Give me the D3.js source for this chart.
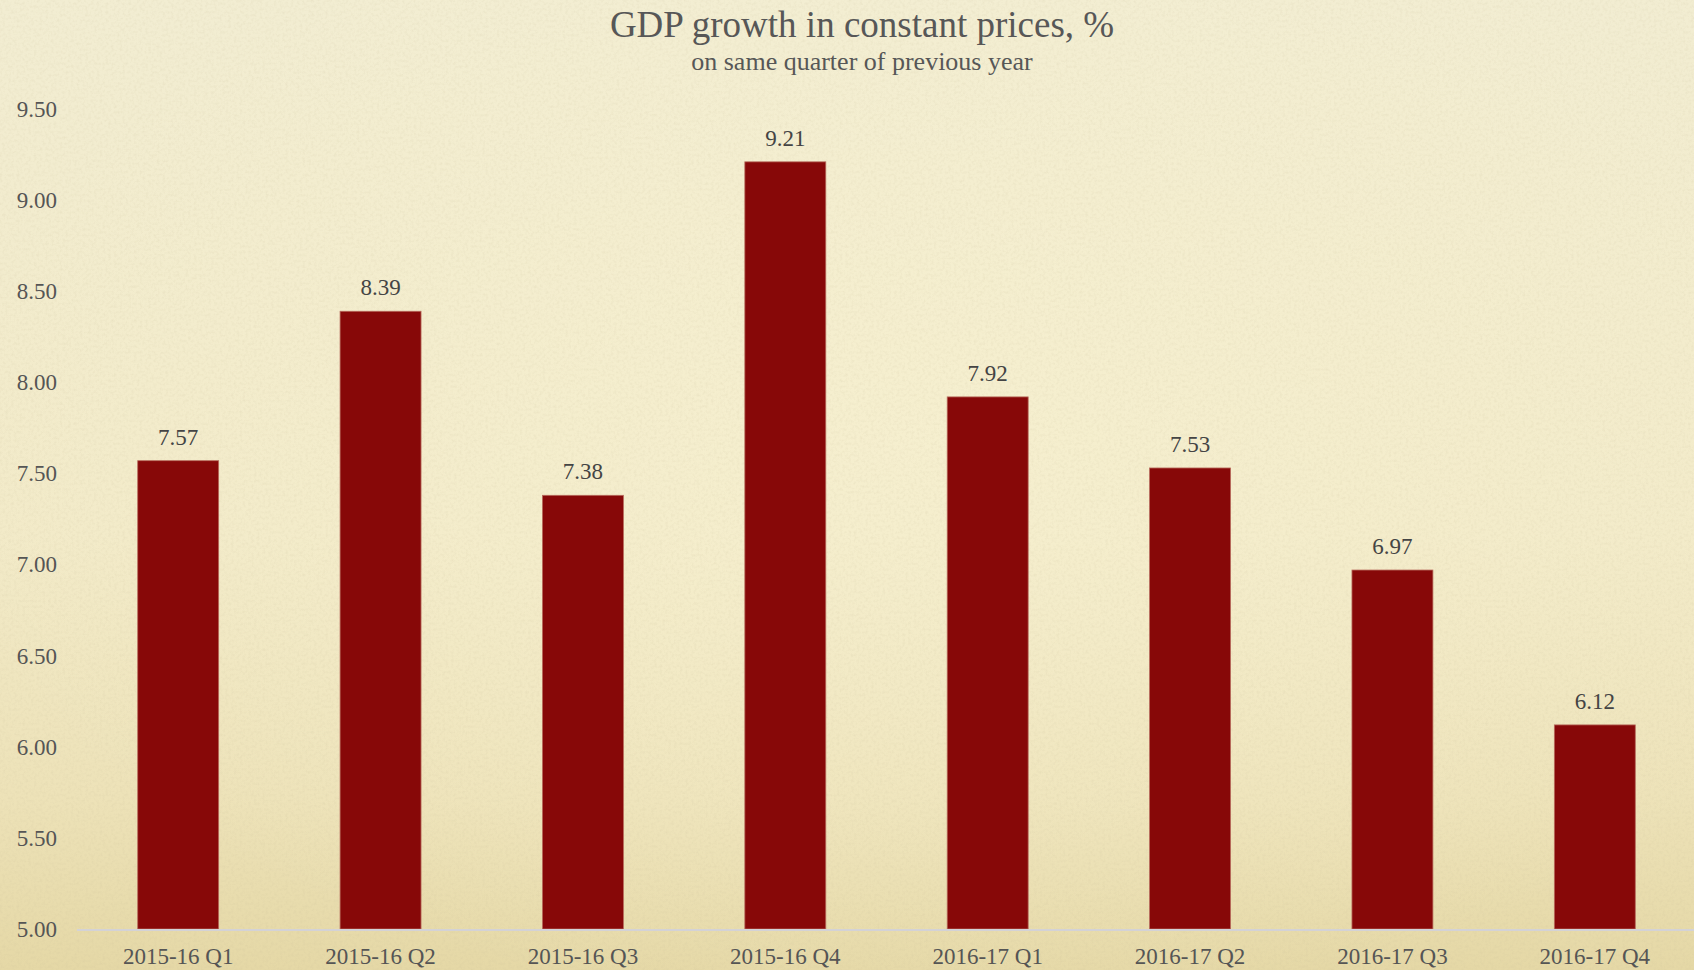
<!DOCTYPE html>
<html>
<head>
<meta charset="utf-8">
<script src="https://cdn.jsdelivr.net/npm/d3@7"></script>
<style>
  html, body { margin: 0; padding: 0; background: #f1ead0; }
  svg { display: block; }
</style>
</head>
<body>
<script>
// Quarterly GDP growth, % on same quarter of previous year
const quarters = ["2015-16 Q1", "2015-16 Q2", "2015-16 Q3", "2015-16 Q4",
                  "2016-17 Q1", "2016-17 Q2", "2016-17 Q3", "2016-17 Q4"];
const growth = [7.57, 8.39, 7.38, 9.21, 7.92, 7.53, 6.97, 6.12];
const yTicks = [5.00, 5.50, 6.00, 6.50, 7.00, 7.50, 8.00, 8.50, 9.00, 9.50];

const W = 1694, H = 970;
const serif = "'Liberation Serif', 'DejaVu Serif', serif";

const svg = d3.select("body").append("svg")
  .attr("width", W).attr("height", H);

// Parchment background: soft gradients plus fine grain
const defs = svg.append("defs");
const lg = defs.append("linearGradient").attr("id", "paper")
  .attr("x1", 0).attr("y1", 0).attr("x2", 0).attr("y2", 1);
lg.append("stop").attr("offset", "0%").attr("stop-color", "#f2edd2");
lg.append("stop").attr("offset", "55%").attr("stop-color", "#f2eac8");
lg.append("stop").attr("offset", "82%").attr("stop-color", "#ede2b8");
lg.append("stop").attr("offset", "100%").attr("stop-color", "#e5d8a6");

const rg = defs.append("radialGradient").attr("id", "glow")
  .attr("cx", 0.55).attr("cy", 0.45).attr("r", 0.6);
rg.append("stop").attr("offset", "0%").attr("stop-color", "#f8f2d2").attr("stop-opacity", 0.6);
rg.append("stop").attr("offset", "100%").attr("stop-color", "#f8f2d2").attr("stop-opacity", 0);

const grain = defs.append("filter").attr("id", "grain")
  .attr("x", 0).attr("y", 0).attr("width", "100%").attr("height", "100%");
grain.append("feTurbulence").attr("type", "fractalNoise")
  .attr("baseFrequency", 0.35).attr("numOctaves", 3).attr("seed", 7).attr("result", "n");
grain.append("feColorMatrix").attr("type", "matrix")
  .attr("values", "0 0 0 0 0.55  0 0 0 0 0.48  0 0 0 0 0.30  0 0 0 0.9 -0.38");

svg.append("rect").attr("width", W).attr("height", H).attr("fill", "url(#paper)");
svg.append("rect").attr("width", W).attr("height", H).attr("fill", "url(#glow)");
svg.append("rect").attr("width", W).attr("height", H)
  .attr("filter", "url(#grain)").attr("opacity", 0.35);

// Scales
const x = d3.scaleBand().domain(quarters).range([77, 1696]).paddingInner(0.6).paddingOuter(0.3);
const y = d3.scaleLinear().domain([5, 9.5]).range([929, 109]);

// Title
svg.append("text")
  .attr("x", 862).attr("y", 37)
  .attr("text-anchor", "middle")
  .attr("font-family", serif).attr("font-size", 37)
  .attr("fill", "#575757")
  .text("GDP growth in constant prices, %");
svg.append("text")
  .attr("x", 862).attr("y", 70)
  .attr("text-anchor", "middle")
  .attr("font-family", serif).attr("font-size", 26)
  .attr("fill", "#575757")
  .text("on same quarter of previous year");

// Y axis labels (no line)
const yAxis = svg.append("g")
  .attr("transform", "translate(57,0)")
  .call(d3.axisLeft(y).tickValues(yTicks).tickFormat(d3.format(".2f")).tickSize(0).tickPadding(0));
yAxis.select(".domain").remove();
yAxis.selectAll("text")
  .attr("font-family", serif).attr("font-size", 23).attr("fill", "#555");

// Bars
svg.append("g").selectAll("rect")
  .data(quarters)
  .join("rect")
  .attr("x", d => x(d))
  .attr("width", x.bandwidth())
  .attr("y", (d, i) => y(growth[i]))
  .attr("height", (d, i) => y(5) - y(growth[i]))
  .attr("fill", "#870808")
  .attr("stroke", "#b76a5c").attr("stroke-width", 0.8);

// Value labels
svg.append("g").selectAll("text")
  .data(quarters)
  .join("text")
  .attr("x", d => x(d) + x.bandwidth() / 2)
  .attr("y", (d, i) => y(growth[i]) - 16)
  .attr("text-anchor", "middle")
  .attr("font-family", serif).attr("font-size", 23)
  .attr("fill", "#444")
  .text((d, i) => d3.format(".2f")(growth[i]));

// X axis baseline and category labels
const xAxis = svg.append("g")
  .attr("transform", `translate(0,${y(5) + 1})`)
  .call(d3.axisBottom(x).tickSize(0).tickPadding(18));
xAxis.select(".domain")
  .attr("stroke", "#d3d2d6").attr("stroke-width", 2)
  .attr("d", `M77,0H${W}`);
xAxis.selectAll("text")
  .attr("font-family", serif).attr("font-size", 23).attr("fill", "#555");
</script>
</body>
</html>
